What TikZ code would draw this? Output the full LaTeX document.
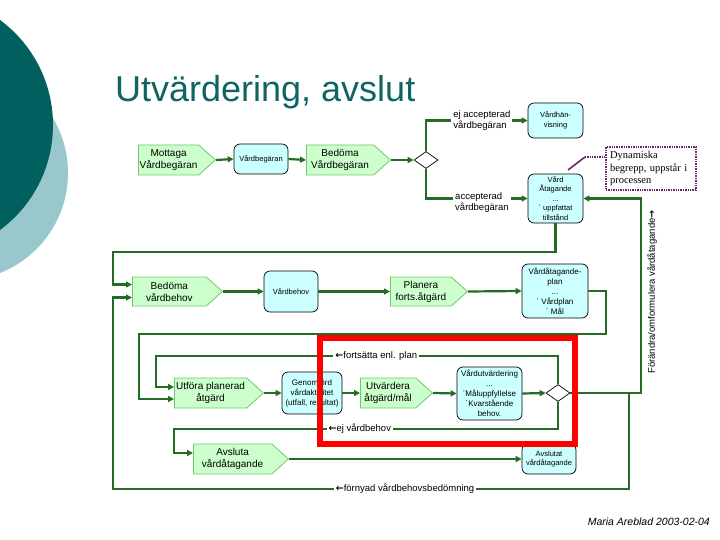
\documentclass[tikz,border=0pt]{standalone}
\usepackage{fontspec}
\setmainfont{Liberation Sans}
\newfontfamily\notefont{Liberation Serif}
\newfontfamily\arrowfont{DejaVu Sans}
\usetikzlibrary{shapes.geometric,shapes.symbols,arrows.meta}

\definecolor{lnk}{RGB}{36,108,36}
\definecolor{actfill}{RGB}{204,255,204}
\definecolor{actline}{RGB}{110,200,110}
\definecolor{objfill}{RGB}{204,255,255}
\definecolor{bgdark}{RGB}{0,96,96}
\definecolor{bglight}{RGB}{153,200,204}
\definecolor{titlecol}{RGB}{16,100,100}
\definecolor{notecol}{RGB}{102,40,102}
\newcommand{\larr}{{\arrowfont\bfseries ←}}
\newcommand{\rarr}{{\arrowfont\bfseries →}}

\begin{document}
\begin{tikzpicture}[%
    x=1pt, y=-1pt,                          % pixel grid, y going down
    >={Triangle[length=6pt,width=6pt]},     % small filled tips
    ]
% -------------------------------------------------
% Box and line styles
\tikzset{
  base/.style={align=center, inner sep=1pt},
  act/.style={base, signal, signal to=east, signal pointer angle=84,
    draw=actline, fill=actfill, line width=0.8pt, minimum height=30pt,
    anchor=west, font=\fontsize{10}{12}\selectfont},
  obj/.style={base, rectangle, rounded corners=6pt, draw=black, fill=objfill,
    line width=0.7pt, font=\fontsize{7.5}{9.5}\selectfont},
  dec/.style={diamond, draw=black, fill=white, line width=0.7pt, inner sep=0pt,
    minimum width=24pt, minimum height=17pt},
  notebox/.style={draw=notecol, densely dotted, line width=1.4pt, align=left,
    minimum width=90pt, minimum height=43pt, text width=82pt, inner sep=3pt,
    font=\notefont\fontsize{10.5}{12.5}\selectfont},
  redframe/.style={draw=red, line width=6pt, inner sep=0pt},
  % -------------------------------------------------
  flow/.style={->, draw=lnk, line width=2.2pt},
  lbl/.style={fill=white, inner sep=2pt, text=black, font=\fontsize{9.5}{11.5}\selectfont},
}
\useasboundingbox (0,0) rectangle (720,540);
% -------------------------------------------------
% Background circles
\begin{scope}
  \clip (0,0) rectangle (720,540);
  \fill[bglight] (-39.5,173) circle (107.5);
  \fill[bgdark] (-77.5,125) circle (130.5);
\end{scope}
\node[anchor=base west, text=titlecol, inner sep=0pt,
  font=\fontsize{36}{40}\selectfont] (title) at (115,102) {Utvärdering, avslut};
% -------------------------------------------------
% First row: the request
\node[act, minimum width=77pt] (mottaga) at (138,160) {Mottaga\\Vårdbegäran};
\node[obj, minimum width=54pt, minimum height=30pt] (vbeg) at (261,159) {Vårdbegäran};
\node[act, minimum width=84pt] (bedvbeg) at (306,160) {Bedöma\\Vårdbegäran};
\node[dec] (dia1) at (426,160) {};
\node[obj, minimum width=55pt, minimum height=35pt] (vhanv) at (555.5,120.5) {Vårdhän-\\visning};
\node[obj, minimum width=55pt, minimum height=49pt] (vatag) at (555.5,198.5)
  {Vård\\Åtagande\\...\\´ uppfattat\\tillstånd};
\node[notebox] (note) at (651,168.5) {Dynamiska\\begrepp, uppstår i\\processen};
% -------------------------------------------------
% Second row: the need
\node[act, minimum width=90pt, minimum height=29pt] (bedvb) at (132,291.5) {Bedöma\\vårdbehov};
\node[obj, minimum width=54pt, minimum height=41pt] (vbehov) at (291,291.5) {Vårdbehov};
\node[act, minimum width=77pt, minimum height=29pt] (planera) at (390,291.5) {Planera\\forts.åtgärd};
\node[obj, minimum width=66pt, minimum height=54pt, font=\fontsize{8}{10}\selectfont] (vplan) at (555,291)
  {Vårdåtagande-\\plan\\...\\´ Vårdplan\\´ Mål};
% -------------------------------------------------
% Third row: carry out and evaluate
\node[act, minimum width=89pt] (utfora) at (174,393) {Utföra planerad\\åtgärd};
\node[obj, minimum width=60pt, minimum height=42pt, font=\fontsize{8}{10}\selectfont] (genomf) at (312,393)
  {Genomförd\\vårdaktivitet\\(utfall, resultat)};
\node[act, minimum width=72pt] (utvard) at (360,393) {Utvärdera\\åtgärd/mål};
\node[obj, minimum width=65pt, minimum height=53pt, font=\fontsize{8}{10}\selectfont] (vutv) at (489.5,393.5)
  {Vårdutvärdering\\...\\´Måluppfyllelse\\´Kvarstående\\behov.};
\node[dec] (dia2) at (558,393) {};
% -------------------------------------------------
% Fourth row: the end
\node[act, minimum width=95pt] (avsluta) at (193,459) {Avsluta\\vårdåtagande};
\node[obj, minimum width=54pt, minimum height=30pt] (avslutat) at (549,459) {Avslutat\\vårdåtagande};
% -------------------------------------------------
% Corners of the loops
\coordinate (c1) at (113,252);
\coordinate (c2) at (606,334);
\coordinate (c3) at (139,334);
\coordinate (c4) at (156,356);
\coordinate (c5) at (174,429);
\coordinate (c6) at (641,393);
\coordinate (c7) at (629,393);
\coordinate (c8) at (113,489);
\coordinate (cp1) at (585,157);
\coordinate (cp2) at (568,170);
% -------------------------------------------------
% Straight connections
\draw[flow] (mottaga.east) -- (vbeg.west);
\draw[flow] (vbeg.east) -- (bedvbeg.west);
\draw[flow] (bedvbeg.east) -- (dia1.west);
\draw[flow] (bedvb.east) -- (vbehov.west);
\draw[flow] (vbehov.east) -- (planera.west);
\draw[flow] (planera.east) -- (vplan.west);
\draw[flow] (utfora.east) -- (genomf.west);
\draw[flow] (genomf.east) -- (utvard.west);
\draw[flow] (utvard.east) -- (vutv.west);
\draw[flow] (vutv.east) -- (dia2.west);
\draw[flow] (avsluta.east) -- (avslutat.west);
% -------------------------------------------------
% Exits from the decisions, with their annotations
\draw[flow] (dia1.north) |- node[lbl, align=left, pos=0.775] {ej accepterad\\vårdbegäran} (vhanv.west);
\draw[flow] (dia1.south) |- node[lbl, align=left, pos=0.775, yshift=-4pt] {accepterad\\vårdbegäran} (vatag.west);
\draw[flow] (dia2.north) |- node[lbl, pos=0.726] {\larr fortsätta enl. plan} (c4)
  |- ([yshift=6pt]utfora.west);
\draw[flow] (dia2.south) |- node[lbl, pos=0.758] {\larr ej vårdbehov} (c5)
  |- ([yshift=6pt]avsluta.west);
\draw[flow] (dia2.east) -- (c6) |- (vatag.east);
\draw[flow] (c7) |- node[lbl, pos=0.717] {\larr förnyad vårdbehovsbedömning} (c8)
  |- ([yshift=-6pt]bedvb.west);
% -------------------------------------------------
% The long loops back to the left
\draw[flow] (vatag.south) |- (c1) |- ([yshift=7pt]bedvb.west);
\draw[flow] (vplan.east) -| (c2) -- (c3) |- ([yshift=-6pt]utfora.west);
\node[rotate=90, inner sep=0pt, font=\fontsize{9.5}{11}\selectfont] (vlbl) at (652,292)
  {Förändra/omformulera vårdåtagande\rarr};
% -------------------------------------------------
% Callout pointer and the evaluation frame
\draw[notecol, densely dotted, line width=1.4pt] (note.west |- cp1) -- (cp1);
\draw[notecol, line width=1.6pt] (cp1) -- (cp2);
\node[redframe, minimum width=255pt, minimum height=106pt] (evalframe) at (447.5,391) {};
\node[anchor=base east, inner sep=0pt, font=\fontsize{10.5}{12}\selectfont\itshape] (sign)
  at (710,525) {Maria Areblad 2003-02-04};
\end{tikzpicture}
\end{document}
